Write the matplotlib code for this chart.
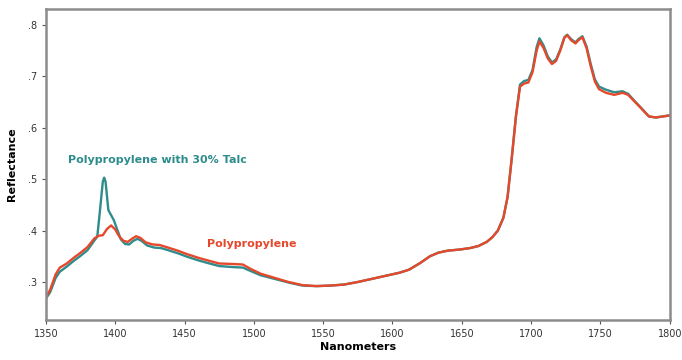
import numpy as np
import matplotlib.pyplot as plt
from matplotlib.ticker import FuncFormatter

# Polypropylene (red)
pp_nm = [1350, 1353, 1357, 1360, 1365, 1370, 1375, 1380, 1385, 1388, 1391, 1394, 1397,
         1400, 1403, 1406, 1409, 1412, 1415, 1418, 1422, 1427, 1432, 1438, 1445, 1452,
         1460, 1468, 1475, 1485, 1492, 1498, 1505, 1515, 1525, 1535, 1545, 1555, 1565,
         1575, 1585, 1595, 1605, 1612, 1620, 1627, 1633, 1640, 1648, 1656, 1662, 1668,
         1672, 1676, 1680, 1683, 1686, 1689, 1692, 1695, 1698, 1701, 1704, 1706, 1709,
         1712, 1715, 1718, 1721, 1724, 1726, 1729, 1732, 1734, 1737, 1740, 1743, 1746,
         1749, 1754, 1760, 1766, 1770, 1775, 1780, 1785, 1790, 1795, 1800]
pp_val = [0.270, 0.285, 0.315, 0.328, 0.336, 0.347, 0.357, 0.368, 0.385, 0.390, 0.391, 0.403, 0.410,
          0.402, 0.388, 0.380, 0.378, 0.384, 0.389, 0.386, 0.377, 0.373, 0.372, 0.367, 0.361, 0.354,
          0.347, 0.341, 0.336, 0.335, 0.334, 0.325, 0.316, 0.308, 0.300, 0.294, 0.292, 0.293, 0.295,
          0.300, 0.306, 0.312, 0.318, 0.324, 0.337, 0.350, 0.357, 0.361, 0.363, 0.366, 0.370, 0.378,
          0.387, 0.400, 0.425, 0.465, 0.540, 0.620, 0.680, 0.686, 0.688, 0.708, 0.750, 0.768, 0.755,
          0.735, 0.724, 0.730, 0.750, 0.775, 0.780, 0.770, 0.764, 0.770, 0.776, 0.755, 0.720, 0.690,
          0.675, 0.668, 0.664, 0.668, 0.664, 0.650, 0.636, 0.622, 0.620, 0.622, 0.624]

# Polypropylene with 30% Talc (teal)
talc_nm = [1350, 1353, 1357, 1360, 1365, 1370, 1375, 1380, 1385, 1387, 1389, 1391, 1392,
           1393, 1395, 1397, 1399, 1401, 1404, 1407, 1410, 1413, 1416, 1419, 1423, 1428,
           1433, 1438, 1445, 1452, 1460, 1468, 1475, 1485, 1492, 1498, 1505, 1515, 1525,
           1535, 1545, 1555, 1565, 1575, 1585, 1595, 1605, 1612, 1620, 1627, 1633, 1640,
           1648, 1656, 1662, 1668, 1672, 1676, 1680, 1683, 1686, 1689, 1692, 1695, 1698,
           1701, 1704, 1706, 1709, 1712, 1715, 1718, 1721, 1724, 1726, 1729, 1732, 1734,
           1737, 1740, 1743, 1746, 1749, 1754, 1760, 1766, 1770, 1775, 1780, 1785, 1790,
           1795, 1800]
talc_val = [0.268, 0.280, 0.308, 0.320, 0.330, 0.341, 0.351, 0.362, 0.381, 0.388, 0.440, 0.495, 0.503,
            0.495, 0.440, 0.430, 0.420, 0.405, 0.383, 0.374, 0.373, 0.380, 0.384, 0.380, 0.371, 0.367,
            0.366, 0.362, 0.356, 0.349, 0.342, 0.336, 0.331, 0.329, 0.328, 0.321, 0.313, 0.306, 0.299,
            0.293, 0.292, 0.293, 0.295, 0.300, 0.306, 0.312, 0.318, 0.324, 0.337, 0.350, 0.357, 0.361,
            0.363, 0.366, 0.370, 0.378, 0.387, 0.400, 0.425, 0.465, 0.540, 0.622, 0.684, 0.691, 0.693,
            0.712, 0.757, 0.774, 0.760, 0.739, 0.727, 0.733, 0.752, 0.776, 0.781, 0.772, 0.766, 0.772,
            0.778, 0.758, 0.724, 0.694, 0.680, 0.674, 0.669, 0.671, 0.666, 0.651, 0.637, 0.622, 0.620,
            0.622, 0.624]

x_ticks = [1350, 1400, 1450, 1500, 1550, 1600, 1650, 1700, 1750, 1800]
y_ticks = [0.3, 0.4, 0.5, 0.6, 0.7, 0.8]

teal = '#2f8c8c'
red = '#e5482b'

fig = plt.figure(figsize=(6.82, 3.6), dpi=100)
ax = fig.add_axes([0.0674, 0.111, 0.9146, 0.864])

ax.plot(talc_nm, talc_val, color=teal, lw=1.7)
ax.plot(pp_nm, pp_val, color=red, lw=1.7)

ax.set_xlim(1350, 1800)
ax.set_ylim(0.226, 0.831)
ax.set_xticks(x_ticks)
ax.set_yticks(y_ticks)
ax.yaxis.set_major_formatter(FuncFormatter(lambda v, p: ('%.1f' % v).lstrip('0')))

for s in ax.spines.values():
    s.set_color('#8c8c8c')
    s.set_linewidth(1.8)
ax.tick_params(axis='both', labelsize=7, colors='#555555', length=3, width=0.8,
               labelcolor='#333333')

ax.set_xlabel('Nanometers', fontsize=8, fontweight='bold', labelpad=2)
ax.set_ylabel('Reflectance', fontsize=8, fontweight='bold', labelpad=8)

ax.text(1366, 0.538, 'Polypropylene with 30% Talc', color=teal, fontsize=8,
        fontweight='bold', va='center', ha='left')
ax.text(1466, 0.373, 'Polypropylene', color=red, fontsize=8,
        fontweight='bold', va='center', ha='left')

fig.savefig('out.png', dpi=100)
